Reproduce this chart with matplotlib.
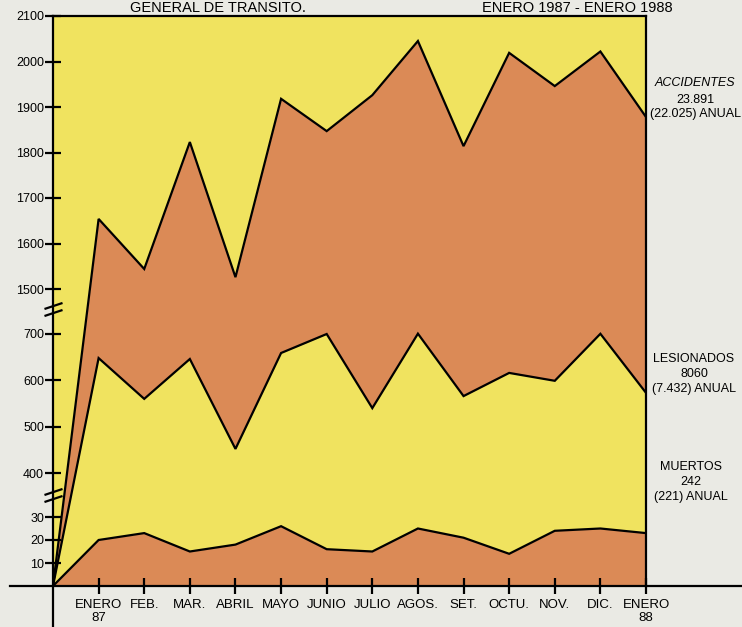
import numpy as np
import matplotlib
matplotlib.use('Agg')
import matplotlib.pyplot as plt
from matplotlib.path import Path

plt.rcParams['font.family'] = ['Liberation Sans', 'DejaVu Sans']

meses = ['ENERO\n87', 'FEB.', 'MAR.', 'ABRIL', 'MAYO', 'JUNIO', 'JULIO', 'AGOS.',
         'SET.', 'OCTU.', 'NOV.', 'DIC.', 'ENERO\n88']
accidentes = [1654, 1544, 1823, 1526, 1918, 1847, 1926, 2045, 1814, 2019, 1946, 2022, 1878]
lesionados = [648, 560, 646, 452, 659, 700, 540, 706, 566, 616, 599, 704, 573]
muertos = [20, 23, 15, 18, 26, 16, 15, 25, 21, 14, 24, 25, 23]
yticks = [10, 20, 30, 400, 500, 600, 700, 1500, 1600, 1700, 1800, 1900, 2000, 2100]

amarillo = '#F0E35F'
naranja = '#DB8A56'
papel = '#EAEAE4'

# eje Y cortado: tramos lineales (valor -> altura)
vals = np.array([-100, 0, 30, 400, 700, 1500, 2100, 4000])
alt = np.array([-230, 0, 69, 113, 252, 297, 570, 1435])


def fwd(v):
    return np.interp(v, vals, alt)


def inv(u):
    return np.interp(u, alt, vals)


x = np.arange(len(meses) + 1)
acc = np.array([0] + accidentes)
les = np.array([0] + lesionados)
mue = np.array([0] + muertos)

fig = plt.figure(figsize=(7.42, 6.27), dpi=100, facecolor=papel)
ax = fig.add_axes([53/742, 41/627, 593/742, 570/627])
ax.set_facecolor(amarillo)
ax.set_yscale('function', functions=(fwd, inv))
ax.set_xlim(0, 13)
ax.set_ylim(0, 2100)

ax.fill_between(x, les, acc, color=naranja, lw=0)
ax.fill_between(x, 0, mue, color=naranja, lw=0)
for serie in [acc, les, mue]:
    ax.plot(x, serie, color='black', lw=1.6, solid_joinstyle='miter')

for s in ax.spines.values():
    s.set_linewidth(1.6)
ax.spines['left'].set_bounds(-18, 2100)
ax.spines['bottom'].set_bounds(-0.95, 15.3)

ax.set_yticks(yticks)
ax.set_yticklabels([str(t) for t in yticks])
ax.set_xticks(range(1, 14))
ax.set_xticklabels(meses, linespacing=1.15)
ax.tick_params(axis='y', direction='inout', length=11, width=1.6, labelsize=9, pad=1)
ax.tick_params(axis='x', direction='inout', length=12, width=1.6, labelsize=9.5, pad=3)
ax.minorticks_off()

# marcas de corte en el eje
corte = Path([(-9, 0.5), (9, 6.5), (-9, -6.5), (9, -0.5)],
             [Path.MOVETO, Path.LINETO, Path.MOVETO, Path.LINETO])
ax.plot([0, 0], [1144, 215], ls='none', marker=corte, markersize=13,
        markeredgewidth=1.6, markeredgecolor='black', clip_on=False)

# rotulos a la derecha
tr = ax.get_yaxis_transform()
ax.text(1.083, 1953, 'ACCIDENTES', transform=tr, ha='center', va='center',
        fontsize=9, style='italic')
ax.text(1.083, 1915, '23.891', transform=tr, ha='center', va='center', fontsize=9)
ax.text(1.083, 1884, '(22.025) ANUAL', transform=tr, ha='center', va='center', fontsize=9)
ax.text(1.081, 614, 'LESIONADOS\n8060\n(7.432) ANUAL', transform=tr, ha='center',
        va='center', fontsize=9, linespacing=1.3)
ax.text(1.076, 324, 'MUERTOS\n242\n(221) ANUAL', transform=tr, ha='center',
        va='center', fontsize=9, linespacing=1.3)

fig.text(218/742, 1 - 11.5/627, 'GENERAL DE TRANSITO.', ha='center', va='baseline',
         fontsize=10.5)
fig.text(577/742, 1 - 11.5/627, 'ENERO 1987 - ENERO 1988', ha='center', va='baseline',
         fontsize=10.5)

fig.savefig('out.png', dpi=100, facecolor=papel)
